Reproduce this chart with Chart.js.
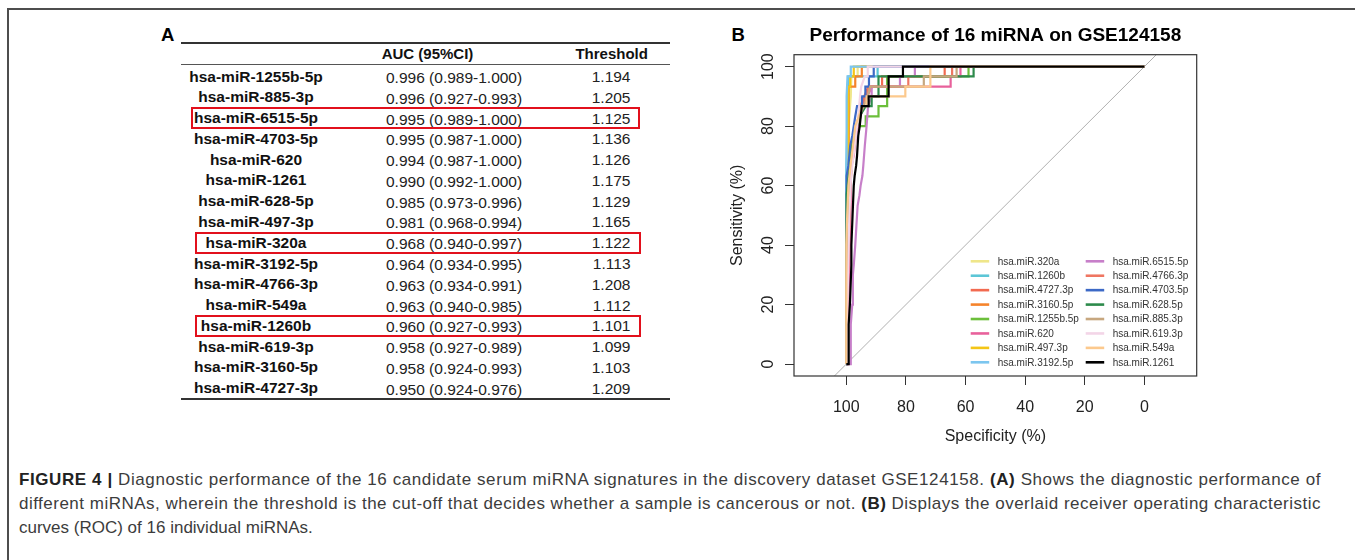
<!DOCTYPE html>
<html><head><meta charset="utf-8">
<script src="https://cdn.jsdelivr.net/npm/chart.js@4.4.1/dist/chart.umd.min.js"></script>
<style>
html,body{margin:0;padding:0;background:#fff;}
body{width:1355px;height:560px;position:relative;overflow:hidden;font-family:"Liberation Sans",Arial,sans-serif;}
.t{position:absolute;white-space:nowrap;line-height:1;}
.frame{position:absolute;left:7px;top:8px;width:1400px;height:600px;border-top:2px solid #4d4d4d;border-left:2px solid #4d4d4d;}
.rule{position:absolute;background:#333;}
.hl{position:absolute;border:2px solid #e2101c;box-sizing:border-box;}
#chartWrap{position:absolute;left:720px;top:20px;width:500px;height:440px;}
#caption .t{font-family:"Liberation Sans",Arial,sans-serif;color:#3c3c3c;}
#caption b{font-weight:700;color:#222;}
</style></head><body>
<div class="frame"></div>
<div id="tableA"></div>
<div id="chartWrap"><canvas id="roc" width="500" height="440" style="width:500px;height:440px"></canvas></div>
<div id="caption"></div>
<script>
// ---------- Panel A table data ----------
const tableHeader = ['AUC (95%CI)', 'Threshold'];
const tableMirnas = ['hsa-miR-1255b-5p','hsa-miR-885-3p','hsa-miR-6515-5p','hsa-miR-4703-5p','hsa-miR-620','hsa-miR-1261','hsa-miR-628-5p','hsa-miR-497-3p','hsa-miR-320a','hsa-miR-3192-5p','hsa-miR-4766-3p','hsa-miR-549a','hsa-miR-1260b','hsa-miR-619-3p','hsa-miR-3160-5p','hsa-miR-4727-3p'];
const tableAuc = ['0.996','0.996','0.995','0.995','0.994','0.990','0.985','0.981','0.968','0.964','0.963','0.963','0.960','0.958','0.958','0.950'];
const tableCI = ['0.989-1.000','0.927-0.993','0.989-1.000','0.987-1.000','0.987-1.000','0.992-1.000','0.973-0.996','0.968-0.994','0.940-0.997','0.934-0.995','0.934-0.991','0.940-0.985','0.927-0.993','0.927-0.989','0.924-0.993','0.924-0.976'];
const tableThreshold = ['1.194','1.205','1.125','1.136','1.126','1.175','1.129','1.165','1.122','1.113','1.208','1.112','1.101','1.099','1.103','1.209'];
const highlightedRows = [2, 8, 12];

// ---------- Panel B ROC data: [specificity %, sensitivity %] vertices ----------
const seriesNames = ['hsa.miR.320a','hsa.miR.1260b','hsa.miR.4727.3p','hsa.miR.3160.5p','hsa.miR.1255b.5p','hsa.miR.620','hsa.miR.497.3p','hsa.miR.3192.5p','hsa.miR.6515.5p','hsa.miR.4766.3p','hsa.miR.4703.5p','hsa.miR.628.5p','hsa.miR.885.3p','hsa.miR.619.3p','hsa.miR.549a','hsa.miR.1261'];
const roc_320a = [[100,0],[100,56.7],[99.5,70],[99,83.3],[98.5,90],[98.3,96.7],[96.2,96.7],[96.2,100],[0,100]];
const roc_1260b = [[100,0],[100,66.7],[99.7,80],[99.5,90],[99.3,96.7],[89.5,96.7],[89.5,100],[0,100]];
const roc_4727_3p = [[100,0],[100,13.3],[99.5,30],[99,50],[98.6,63.3],[97.8,70],[97.2,76.7],[96.2,80],[95.4,86.7],[94,90],[92.6,93.3],[88,93.3],[88,96.7],[67,96.7],[67,100],[0,100]];
const roc_3160_5p = [[100,0],[100,20],[99.3,30],[99.2,93.3],[97,93.3],[97,96.7],[94.8,96.7],[94.8,100],[0,100]];
const roc_1255b_5p = [[100,0],[100,46.7],[99.6,56.7],[99,63.3],[98.4,70],[97.6,76.7],[96.6,80],[93.5,80],[93.5,83.3],[89.2,83.3],[89.2,86.7],[86.3,86.7],[86.3,96.7],[59,96.7],[59,100],[0,100]];
const roc_620 = [[100,0],[99.6,0],[99.6,13.3],[99,30],[98.6,50],[98.4,66.7],[97.5,70],[96.8,76.7],[96,80],[95.2,83.3],[94.4,86.7],[93,90],[91.3,93.3],[65,93.3],[65,96.7],[61.7,96.7],[61.7,100],[0,100]];
const roc_497_3p = [[100,0],[100,50],[99.5,60],[99.3,93.3],[98.7,93.3],[98.7,96.7],[97.5,96.7],[97.5,100],[0,100]];
const roc_3192_5p = [[100,0],[100,60],[99.8,90],[99.6,96.7],[98.5,96.7],[98.5,100],[0,100]];
const roc_6515_5p = [[100,0],[98.5,0],[98.5,13.3],[98,20],[97.8,30],[97.5,33.3],[97,40],[96.6,46.7],[96.2,53.3],[95.6,56.7],[95.2,60],[94.6,63.3],[94.3,66.7],[93.8,73.3],[93.2,80],[92.7,86.7],[91.5,90],[91.5,93.3],[82,93.3],[82,96.7],[77,96.7],[77,100],[0,100]];
const roc_4766_3p = [[100,0],[99.6,0],[99.6,20],[99.2,40],[98.8,56.7],[98.2,66.7],[97.4,73.3],[96.7,80],[95.8,83.3],[94.7,86.7],[93.6,90],[92.2,93.3],[79.2,93.3],[79.2,96.7],[64.5,96.7],[64.5,100],[0,100]];
const roc_4703_5p = [[100,0],[100,53.3],[99.8,63.3],[99.3,66.7],[98.7,73.3],[98,76.7],[97.5,80],[97,83.3],[96.4,86.7],[94.7,86.7],[94.7,90],[93.6,90],[93.6,93.3],[92.4,93.3],[92.4,96.7],[90.8,96.7],[90.8,100],[0,100]];
const roc_628_5p = [[100,0],[100,43.3],[99.8,57],[99.2,63.3],[98.6,66.7],[98,73.3],[97.2,76.7],[96.4,80],[95.5,83.3],[93.5,86.7],[91.5,86.7],[91.5,90],[89.2,90],[89.2,96.7],[57.3,96.7],[57.3,100],[0,100]];
const roc_885_3p = [[100,0],[100,23.3],[99.5,46.7],[99,60],[98.2,66.7],[97.4,73.3],[96.6,80],[95.6,83.3],[94.2,86.7],[92.8,90],[92,93.3],[74,93.3],[74,96.7],[63,96.7],[63,100],[0,100]];
const roc_619_3p = [[100,0],[99.8,10],[99.4,30],[99,50],[98.4,63.3],[97.6,70],[96.8,76.7],[96,83.3],[95.4,90],[95,93.3],[93.8,96.7],[92.8,96.7],[92.8,100],[0,100]];
const roc_549a = [[100,0],[100,40],[99.7,50],[99.3,60],[98.6,66.7],[97.8,73.3],[97,80],[95.8,83.3],[94.7,86.7],[93.2,86.7],[93.2,90],[80.2,90],[80.2,93.3],[71.8,93.3],[71.8,100],[0,100]];
const roc_1261 = [[100,0],[99.2,0],[99.2,13.3],[98.8,20],[98.3,33.3],[98.3,40],[97.9,50],[97.5,60],[97.2,63.3],[96.7,66.7],[96.4,70],[96,76.7],[95.5,80],[94.8,86.7],[92.5,86.7],[92.5,90],[85.8,90],[85.8,96.7],[81,96.7],[81,100],[0,100]];
const rocCurves = [roc_320a, roc_1260b, roc_4727_3p, roc_3160_5p, roc_1255b_5p, roc_620, roc_497_3p, roc_3192_5p, roc_6515_5p, roc_4766_3p, roc_4703_5p, roc_628_5p, roc_885_3p, roc_619_3p, roc_549a, roc_1261];
const diagonalLine = [[125,-25],[-25,125]];
const xTickValues = [0, 20, 40, 60, 80, 100];
const yTickValues = [0, 20, 40, 60, 80, 100];
const chartTitle = 'Performance of 16 miRNA on GSE124158';
const xTitle = 'Specificity (%)';
const yTitle = 'Sensitivity (%)';

// styles
const seriesColors = ['#efe68a','#5cc6d6','#f26a50','#f5832b','#6cbf3b','#e8619b','#f4c516','#7cc6ef','#c77fc9','#ef7662','#3c69c6','#2d8a4b','#c7a77f','#f3d5e7','#fcc98d','#000000'];
const FONT = '"Liberation Sans", Arial, sans-serif';

// ---------- Panel A rendering ----------
const tableA = document.getElementById('tableA');
function addText(parent, html, x, baseline, size, opts) {
  const d = document.createElement('div');
  d.className = 't';
  d.innerHTML = html;
  d.style.fontSize = size + 'px';
  d.style.top = (baseline - 0.8465 * size) + 'px';
  d.style.left = x + 'px';
  d.style.fontWeight = opts.bold ? 'bold' : 'normal';
  d.style.color = opts.color || '#111';
  if (opts.align === 'center') d.style.transform = 'translateX(-50%)';
  else if (opts.align === 'right') d.style.transform = 'translateX(-100%)';
  parent.appendChild(d);
  return d;
}
function addRule(x, y, w, h, color) {
  const r = document.createElement('div');
  r.className = 'rule';
  Object.assign(r.style, {left: x + 'px', top: y + 'px', width: w + 'px', height: h + 'px', background: color});
  tableA.appendChild(r);
}
addText(tableA, 'A', 161, 41.5, 18.5, {bold: true, color: '#000'});
addText(tableA, 'B', 731.5, 41.7, 18.5, {bold: true, color: '#000'});
addRule(181, 41.5, 489, 2, '#333');
addRule(181, 63.5, 489, 1, '#555');
addRule(181, 398, 489, 2, '#333');
addText(tableA, tableHeader[0], 427.5, 58.3, 15, {bold: true, align: 'center'});
addText(tableA, tableHeader[1], 611.7, 58.3, 15, {bold: true, align: 'center'});
const rowBase0 = 81.7, rowStep = 20.77;
tableMirnas.forEach((name, i) => {
  const b = rowBase0 + rowStep * i;
  addText(tableA, name, 256, b, 15.5, {bold: true, color: '#111', align: 'center'});
  addText(tableA, tableAuc[i] + ' (' + tableCI[i] + ')', 386, b + 1.5, 15.5, {color: '#222'});
  addText(tableA, tableThreshold[i], 630.5, b + 0.5, 15.5, {color: '#222', align: 'right'});
});
highlightedRows.forEach(i => {
  const b = rowBase0 + rowStep * i;
  const h = document.createElement('div');
  h.className = 'hl';
  Object.assign(h.style, {left: (i === 2 ? 191 : 195) + 'px', top: (b - 15.8) + 'px', width: (i === 2 ? 448.5 : 446) + 'px', height: 21.5 + 'px'});
  tableA.appendChild(h);
});

// ---------- Caption ----------
const cap = document.getElementById('caption');
const capLines = [
  '<b>FIGURE 4 |</b> Diagnostic performance of the 16 candidate serum miRNA signatures in the discovery dataset GSE124158. <b>(A)</b> Shows the diagnostic performance of',
  'different miRNAs, wherein the threshold is the cut-off that decides whether a sample is cancerous or not. <b>(B)</b> Displays the overlaid receiver operating characteristic',
  'curves (ROC) of 16 individual miRNAs.'
];
const capEls = capLines.map((l, i) => addText(cap, l, 19, 485 + 24 * i, 17, {color: '#3c3c3c'}));
function justify() {
  [0, 1].forEach(i => {
    const el = capEls[i];
    el.style.wordSpacing = '0px';
    el.style.letterSpacing = '0px';
    const w = el.getBoundingClientRect().width;
    const chars = el.textContent.length;
    el.style.letterSpacing = ((1302 - w) / chars) + 'px';
  });
}
justify();
if (document.fonts && document.fonts.ready) document.fonts.ready.then(justify);

// ---------- Panel B chart ----------
const decoPlugin = {
  id: 'deco',
  afterDraw(chart) {
    const {ctx, chartArea: a, scales: {x, y}} = chart;
    ctx.save();
    ctx.strokeStyle = '#333';
    ctx.lineWidth = 1.2;
    ctx.strokeRect(a.left, a.top, a.right - a.left, a.bottom - a.top);
    ctx.fillStyle = '#000';
    ctx.textAlign = 'center';
    ctx.textBaseline = 'alphabetic';
    ctx.font = 'bold 19px ' + FONT;
    ctx.fillText(chartTitle, (a.left + a.right) / 2, 20.7);
    ctx.font = '16px ' + FONT;
    ctx.fillStyle = '#222';
    yTickValues.forEach(v => {
      ctx.save();
      ctx.translate(53.3, y.getPixelForValue(v));
      ctx.rotate(-Math.PI / 2);
      ctx.fillText(String(v), 0, 0);
      ctx.restore();
    });
    ctx.fillStyle = '#222';
    ctx.fillText(xTitle, (a.left + a.right) / 2, 420.7);
    ctx.save();
    ctx.translate(21.7, (a.top + a.bottom) / 2);
    ctx.rotate(-Math.PI / 2);
    ctx.fillText(yTitle, 0, 0);
    ctx.restore();
    ctx.font = '10px ' + FONT;
    ctx.textAlign = 'left';
    ctx.textBaseline = 'middle';
    const ds = chart.data.datasets.filter(d => d.isCurve);
    ds.forEach((d, i) => {
      const col = i < 8 ? 0 : 1, row = i % 8;
      const lx = a.left + (col === 0 ? 176.7 : 291.7);
      const ly = a.bottom - 114.7 + row * 14.43;
      ctx.strokeStyle = d.borderColor;
      ctx.lineWidth = 2.6;
      ctx.beginPath();
      ctx.moveTo(lx, ly);
      ctx.lineTo(lx + 18.5, ly);
      ctx.stroke();
      ctx.fillStyle = '#333';
      ctx.fillText(d.label, lx + 27, ly + 0.5);
    });
    ctx.restore();
  }
};

const datasets = rocCurves.map((c, i) => ({
  label: seriesNames[i],
  data: c,
  isCurve: true,
  borderColor: seriesColors[i],
  backgroundColor: seriesColors[i],
  borderWidth: 2.2,
  pointRadius: 0,
  tension: 0,
  fill: false,
  order: rocCurves.length - i
}));
datasets.push({
  label: 'diagonal',
  data: diagonalLine,
  isCurve: false,
  borderColor: '#b0b0b0',
  borderWidth: 1,
  pointRadius: 0,
  fill: false,
  order: 100
});

new Chart(document.getElementById('roc'), {
  type: 'line',
  data: {datasets},
  options: {
    responsive: false,
    animation: false,
    events: [],
    layout: {padding: {top: 34.7, right: 23.3, left: 0, bottom: 0}},
    plugins: {legend: {display: false}, tooltip: {enabled: false}, title: {display: false}},
    scales: {
      x: {
        type: 'linear',
        reverse: true,
        min: -17.55,
        max: 117.55,
        afterBuildTicks: s => { s.ticks = xTickValues.map(v => ({value: v})); },
        afterFit: s => { s.height = 84; },
        grid: {drawOnChartArea: false, drawTicks: true, tickLength: 9, color: '#333', lineWidth: 1},
        border: {display: false},
        ticks: {font: {family: FONT, size: 16}, color: '#222', padding: 12.6, maxRotation: 0, minRotation: 0, autoSkip: false}
      },
      y: {
        type: 'linear',
        min: -4,
        max: 104,
        afterBuildTicks: s => { s.ticks = yTickValues.map(v => ({value: v})); },
        afterFit: s => { s.width = 74; },
        grid: {drawOnChartArea: false, drawTicks: true, tickLength: 9, color: '#333', lineWidth: 1},
        border: {display: false},
        ticks: {display: false}
      }
    }
  },
  plugins: [decoPlugin]
});
</script>
</body></html>
